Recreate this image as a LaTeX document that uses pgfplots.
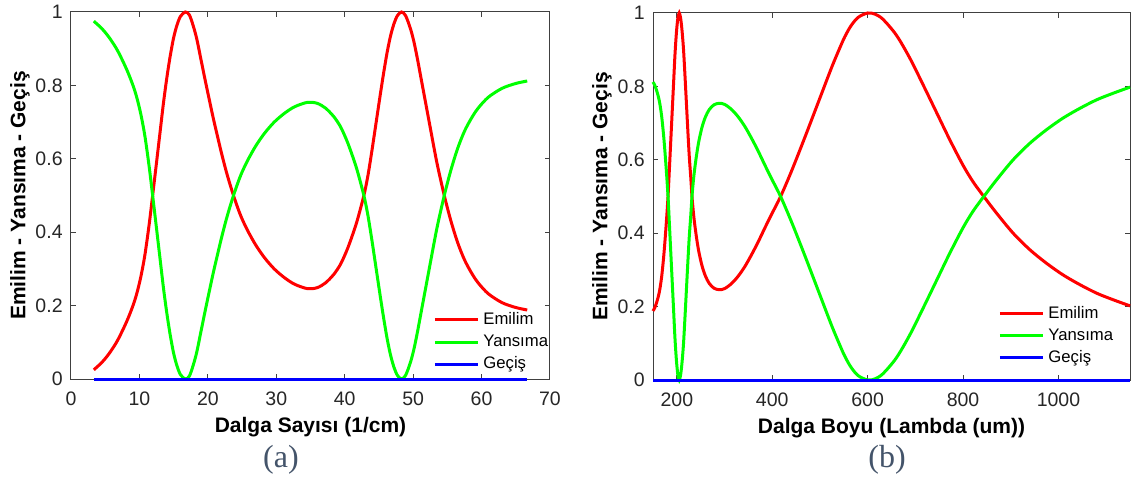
\documentclass[border=0pt]{standalone}
\usepackage{pgfplots}
\pgfplotsset{compat=1.18}
\usepackage{pgfplotstable}
\usepackage{fontspec}
\setmainfont{Liberation Sans}
\newfontfamily\capfont{Liberation Serif}
\definecolor{axgray}{HTML}{404040}
\definecolor{tickgray}{HTML}{262626}
\definecolor{capcol}{HTML}{44546A}

\pgfplotstableread{
k e r
3.33 0.025 0.975
4.5 0.045 0.955
5.6 0.07 0.93
6.8 0.105 0.895
8.1 0.155 0.845
9.0 0.197 0.803
9.6 0.232 0.768
10.2 0.278 0.722
10.8 0.338 0.662
11.4 0.418 0.582
11.9 0.495 0.505
12.5 0.59 0.41
13.0 0.67 0.33
13.5 0.75 0.25
14.0 0.82 0.18
14.5 0.88 0.12
15.0 0.93 0.07
15.5 0.965 0.035
16.0 0.988 0.012
16.7 1.0 0.0
17.3 0.992 0.008
17.9 0.96 0.04
18.4 0.925 0.075
19.0 0.87 0.13
19.6 0.815 0.185
20.2 0.762 0.238
20.8 0.71 0.29
21.4 0.662 0.338
22.0 0.615 0.385
22.8 0.558 0.442
23.8 0.497 0.503
24.8 0.445 0.555
25.8 0.405 0.595
27.0 0.365 0.635
28.3 0.33 0.67
29.7 0.30 0.70
31.2 0.276 0.724
32.7 0.258 0.742
34.6 0.246 0.754
36.0 0.249 0.751
37.2 0.262 0.738
38.4 0.285 0.715
39.4 0.313 0.687
40.3 0.35 0.65
41.0 0.385 0.615
41.8 0.43 0.57
42.8 0.50 0.50
43.4 0.555 0.445
44.0 0.625 0.375
44.6 0.70 0.30
45.2 0.775 0.225
45.7 0.835 0.165
46.2 0.89 0.11
46.7 0.935 0.065
47.2 0.968 0.032
47.7 0.99 0.01
48.3 1.0 0.0
48.9 0.99 0.01
49.6 0.955 0.045
50.1 0.92 0.08
50.6 0.875 0.125
51.1 0.825 0.175
51.6 0.775 0.225
52.1 0.725 0.275
52.6 0.675 0.325
53.1 0.625 0.375
53.6 0.578 0.422
54.55 0.50 0.50
55.5 0.432 0.568
56.5 0.372 0.628
57.5 0.325 0.675
58.5 0.29 0.71
59.5 0.262 0.738
61.0 0.232 0.768
63.0 0.208 0.792
64.95 0.195 0.805
66.67 0.188 0.812
}\tabA

\pgfplotstableread{
l e r
150 0.188 0.812
154 0.198 0.802
158 0.213 0.787
163 0.238 0.762
168 0.28 0.72
173 0.345 0.655
178 0.43 0.57
181.5 0.50 0.50
184 0.565 0.435
187 0.645 0.355
190 0.725 0.275
193 0.805 0.195
196 0.885 0.115
199 0.945 0.055
202 0.985 0.015
205 1.0 0.0
208 0.985 0.015
211 0.95 0.05
214 0.90 0.10
217 0.83 0.17
220 0.755 0.245
223 0.68 0.32
226 0.61 0.39
229 0.555 0.445
232 0.495 0.505
236 0.44 0.56
241 0.39 0.61
246 0.35 0.65
253 0.31 0.69
260 0.283 0.717
268 0.263 0.737
278 0.25 0.75
289 0.246 0.754
300 0.249 0.751
314 0.262 0.738
328 0.282 0.718
342 0.308 0.692
356 0.34 0.66
370 0.375 0.625
384 0.413 0.587
398 0.45 0.55
417.5 0.50 0.50
440 0.568 0.432
468 0.66 0.34
496 0.755 0.245
524 0.85 0.15
540 0.90 0.10
552 0.935 0.065
565 0.965 0.035
580 0.988 0.012
600 1.0 0.0
615 0.997 0.003
632 0.983 0.017
660 0.94 0.06
688 0.878 0.122
716 0.805 0.195
744 0.73 0.27
772 0.655 0.345
800 0.585 0.415
821 0.54 0.46
843.5 0.50 0.50
870 0.455 0.545
905 0.40 0.60
940 0.355 0.645
975 0.318 0.682
1010 0.286 0.714
1046 0.259 0.741
1081 0.236 0.764
1116 0.218 0.782
1150 0.202 0.798
}\tabB

\pgfplotsset{
  myax/.style={
    scale only axis,
    height=183.5pt,
    ymin=0, ymax=1,
    ytick={0,0.2,0.4,0.6,0.8,1},
    yticklabels={0,0.2,0.4,0.6,0.8,1},
    axis line style={axgray, line width=0.5pt},
    every tick/.style={axgray, line width=0.5pt},
    major tick length=2.5pt,
    tick align=inside,
    tick pos=both,
    clip=false,
    /pgf/number format/assume math mode=true,
    /pgf/number format/1000 sep={},
    tick label style={font=\fontsize{9.75}{11}\selectfont, text=tickgray, inner sep=0pt},
    xticklabel style={anchor=north, yshift=-6pt},
    yticklabel style={anchor=east, xshift=-4pt},
    label style={font=\fontsize{10.5}{12}\selectfont\bfseries, text=black},
    ylabel={Emilim - Yans\i ma - Ge\c{c}i\c{s}},
    legend cell align=left,
    legend image code/.code={\draw[#1] (0pt,0pt) -- (21.5pt,0pt);},
    legend style={draw=none, fill=none, inner sep=0pt, anchor=north west,
      font=\fontsize{8.35}{10}\selectfont, row sep=3.6pt, column sep=2pt,
      nodes={inner sep=0pt, text height=6pt, text depth=1.5pt}},
  }
}

\begin{document}
\begin{tikzpicture}[x=1pt,y=1pt]
\path[use as bounding box] (-35.5,-51) rectangle (531,189.5);

\begin{axis}[myax,
  at={(0,0)}, anchor=south west,
  width=239.5pt,
  xmin=0, xmax=70,
  xtick={0,10,20,30,40,50,60,70},
  xlabel={Dalga Say\i s\i\ (1/cm)},
  x label style={at={(axis description cs:0.5,-0.1308)}, anchor=center},
  y label style={at={(axis description cs:-0.1065,0.5)}, anchor=center},
  legend style={at={(axis description cs:0.7557,0.1826)}},
]
\addplot[red, line width=1.5pt, smooth, tension=0.5] table[x=k,y=e]{\tabA};
\addlegendentry{Emilim}
\addplot[green, line width=1.5pt, smooth, tension=0.5] table[x=k,y=r]{\tabA};
\addlegendentry{Yans\i ma}
\addplot[blue, line width=1.5pt] coordinates {(3.33,0) (66.67,0)};
\addlegendentry{Ge\c{c}i\c{s}}
\end{axis}

\begin{axis}[myax,
  at={(291pt,-0.5pt)}, anchor=south west,
  width=238.5pt,
  xmin=150, xmax=1150,
  xtick={200,400,600,800,1000},
  xlabel={Dalga Boyu (Lambda (um))},
  x label style={at={(axis description cs:0.5,-0.1308)}, anchor=center},
  y label style={at={(axis description cs:-0.1069,0.5)}, anchor=center},
  legend style={at={(axis description cs:0.7233,0.2026)}},
]
\addplot[red, line width=1.5pt, smooth, tension=0.5] table[x=l,y=e]{\tabB};
\addlegendentry{Emilim}
\addplot[green, line width=1.5pt, smooth, tension=0.5] table[x=l,y=r]{\tabB};
\addlegendentry{Yans\i ma}
\addplot[blue, line width=1.5pt] coordinates {(150,0) (1150,0)};
\addlegendentry{Ge\c{c}i\c{s}}
\end{axis}

\node[font=\capfont\fontsize{16}{18}\selectfont, text=capcol, inner sep=0pt] at (105,-40.5) {(a)};
\node[font=\capfont\fontsize{16}{18}\selectfont, text=capcol, inner sep=0pt] at (408,-40.5) {(b)};
\end{tikzpicture}
\end{document}
